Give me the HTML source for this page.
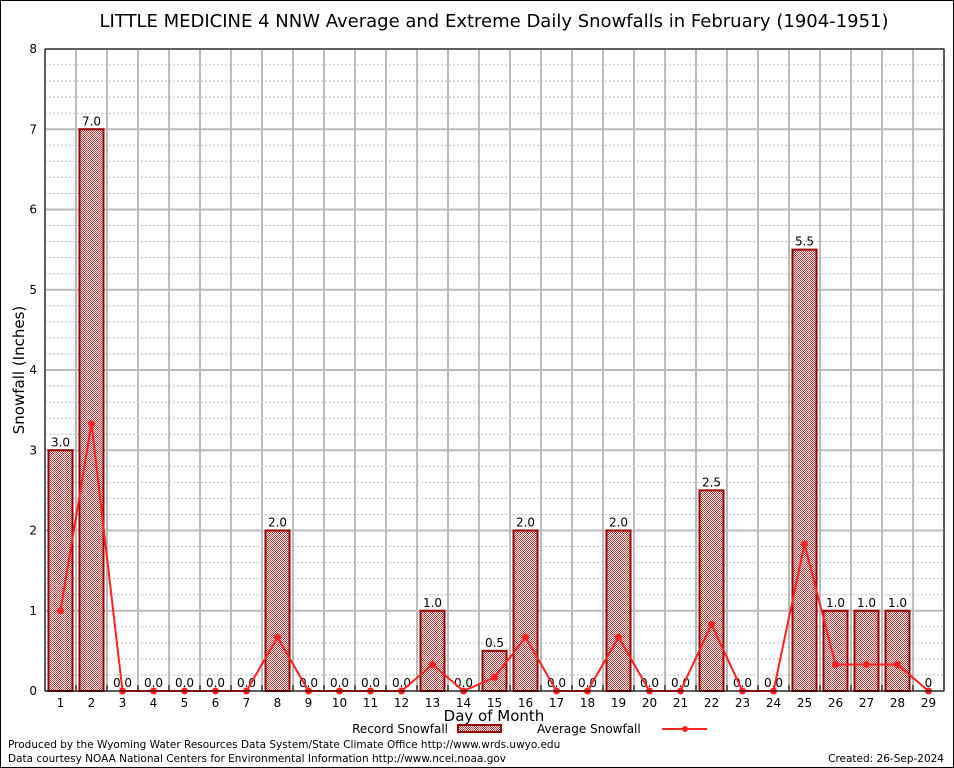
<!DOCTYPE html>
<html><head><meta charset="utf-8">
<style>
html,body{margin:0;padding:0;background:#fff}
svg{display:block}
text{font-family:"DejaVu Sans","Liberation Sans",sans-serif}
</style></head><body>
<svg id="chart" width="954" height="768" xmlns="http://www.w3.org/2000/svg">
<defs>
<pattern id="hatch" width="2" height="2" patternUnits="userSpaceOnUse">
<rect width="2" height="2" fill="#fff"/>
<rect width="1" height="1" fill="#c33"/>
<rect x="1" y="1" width="1" height="1" fill="#c33"/>
</pattern>
</defs>
<rect x="0.5" y="0.5" width="953" height="767" fill="#fff" stroke="#000"/>
<text x="494" y="27" font-size="18" text-anchor="middle">LITTLE MEDICINE 4 NNW Average and Extreme Daily Snowfalls in February (1904-1951)</text>
<g id="grid"></g>
<g id="bars"></g>
<g id="line"></g>
<g id="axes"></g>
<text x="24" y="370" font-size="15" text-anchor="middle" transform="rotate(-90 24 370)">Snowfall (Inches)</text>
<text x="494" y="721" font-size="15" text-anchor="middle">Day of Month</text>
<g>
<text x="448" y="733" font-size="12" text-anchor="end">Record Snowfall</text>
<rect x="458" y="725" width="43" height="7" fill="url(#hatch)" stroke="#900" stroke-width="2"/>
<text x="537" y="733" font-size="12">Average Snowfall</text>
<line x1="662" y1="729" x2="707" y2="729" stroke="#f22" stroke-width="2"/>
<circle cx="685" cy="729" r="3" fill="#f22"/>
</g>
<text x="8" y="748" font-size="10.5">Produced by the Wyoming Water Resources Data System/State Climate Office http://www.wrds.uwyo.edu</text>
<text x="8" y="762" font-size="10.5">Data courtesy NOAA National Centers for Environmental Information http://www.ncei.noaa.gov</text>
<text x="944" y="762" font-size="10.5" text-anchor="end">Created: 26-Sep-2024</text>
</svg>
<script>
const days = [1,2,3,4,5,6,7,8,9,10,11,12,13,14,15,16,17,18,19,20,21,22,23,24,25,26,27,28,29];
const recordValues = [3.0,7.0,0,0,0,0,0,2.0,0,0,0,0,1.0,0,0.5,2.0,0,0,2.0,0,0,2.5,0,0,5.5,1.0,1.0,1.0,0];
const recordLabels = ["3.0","7.0","0.0","0.0","0.0","0.0","0.0","2.0","0.0","0.0","0.0","0.0","1.0","0.0","0.5","2.0","0.0","0.0","2.0","0.0","0.0","2.5","0.0","0.0","5.5","1.0","1.0","1.0","0"];
const averageValues = [1.0,3.33,0,0,0,0,0,0.67,0,0,0,0,0.33,0,0.17,0.67,0,0,0.67,0,0,0.83,0,0,1.83,0.33,0.33,0.33,0];
const yTicks = [0,1,2,3,4,5,6,7,8];

const NS="http://www.w3.org/2000/svg";
const L=45,R=944,T=49,B=691;
const step=(R-L)/29;
const x=d=>L+(d-0.5)*step;
const y=v=>B-(v/8)*(B-T);
function mk(tag,attrs,parent){const e=document.createElementNS(NS,tag);for(const k in attrs)e.setAttribute(k,attrs[k]);document.getElementById(parent).appendChild(e);return e;}

for(let v=0;v<=8.0001;v+=0.2){
  const major=Math.abs(v-Math.round(v))<1e-6;
  const g=mk('line',{x1:L,x2:R,y1:y(v),y2:y(v),stroke:'#bbb','stroke-width':major?2:1,'stroke-dasharray':major?'':'2,2'},'grid');
  
  
}
for(let i=0;i<=29;i++){
  const g=mk('line',{x1:L+i*step,x2:L+i*step,y1:T,y2:B,stroke:'#bbb','stroke-width':2},'grid');
  
  
}
days.forEach((d,i)=>{
  const v=recordValues[i];
  if(v>0){
    const r=mk('rect',{x:x(d)-12,y:y(v),width:24,height:B-y(v),fill:'url(#hatch)',stroke:'#900','stroke-width':2},'bars');
    
    
  }
  const t=mk('text',{x:x(d),y:y(v)-4,'font-size':12,'text-anchor':'middle'},'bars');
  t.textContent=recordLabels[i];
  
  
});
const pts=days.map((d,i)=>x(d)+','+y(averageValues[i])).join(' ');
const pl=mk('polyline',{points:pts,fill:'none',stroke:'#f22','stroke-width':2},'line');


days.forEach((d,i)=>{
  const c=mk('circle',{cx:x(d),cy:y(averageValues[i]),r:3.5,fill:'#f22'},'line');
  
  
});
const fr=mk('rect',{x:L,y:T,width:R-L,height:B-T,fill:'none',stroke:'#000','stroke-width':1},'axes');


yTicks.forEach(v=>{
  const t=mk('text',{x:L-8,y:y(v)+4,'font-size':12,'text-anchor':'end','font-family':'Liberation Serif,serif'},'axes');
  t.textContent=v;
  
  
});
days.forEach(d=>{
  const t=mk('text',{x:x(d),y:B+16,'font-size':12,'text-anchor':'middle','font-family':'Liberation Serif,serif'},'axes');
  t.textContent=d;
  
  
  const k=mk('line',{x1:L+d*step,x2:L+d*step,y1:B,y2:B-6,stroke:'#000'},'axes');
  
  
});
</script>
</body></html>
